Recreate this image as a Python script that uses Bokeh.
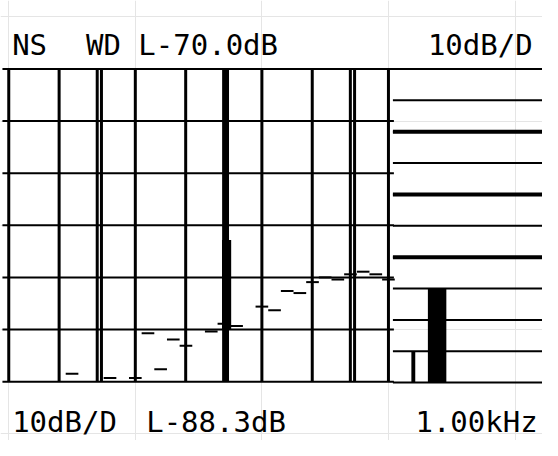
import numpy as np
from bokeh.plotting import figure
from bokeh.models import Range1d, LinearScale, Label
from bokeh.embed import file_html
from bokeh.resources import INLINE

# ---------------- data ----------------
# frequency grid (Hz, log axis 1 Hz .. 1 kHz) and level grid (dB, 10 dB/div)
grid_hz = [1, 2.5, 5, 10, 25, 50, 100, 250, 500, 1000]
grid_db = [-70, -80, -90, -100, -110, -120, -130]

# 1/3-octave (base-10) band spectrum (band index k -> 10**(k/10) Hz)
band_k = [5, 8, 10, 11, 12, 13, 14, 16, 17, 18, 20, 21, 22, 23, 24, 25, 26, 27, 28, 29, 30]
band_db = [-128.5, -129.3, -129.3, -120.7, -127.6, -121.9, -123.1, -120.4, -118.9, -119.3,
           -115.6, -116.3, -112.6, -113.0, -110.9, -110.0, -110.4, -109.4, -108.9, -109.4, -110.4]

# discrete spectral lines (full height) and the dense hum blocks near 50 Hz
line_hz = [5.4, 540]
hum_lo_hz = [48.8, 48.4]
hum_hi_hz = [55.0, 57.2]
hum_top_db = [-70.0, -102.8]
hum_bot_db = [-130.0, -120.0]

# right-hand meter: 10 divisions, two bars
meter_levels = [0, 1, 2, 3, 4, 5, 6, 7, 8, 9, 10]
meter_major = [4, 6, 8]
meter_pos = [1, 2]
meter_val = [1, 3]

top_texts = ["NS", "WD L-70.0dB", "10dB/D"]
bottom_texts = ["10dB/D", "L-88.3dB", "1.00kHz"]

# ---------------- layout constants (reference-picture pixels) ----------------
W, H = 542, 440           # canvas; the 558x456 reference is mapped onto it
RW, RH = 558, 456
PX_1HZ, DEC = 8.5, 130.3
PY_TOP, PX_DB = 71.0, 5.4
PX_M1, PX_MU = 425.0, 24.5
PY_M0, PY_MU = 396.0, 32.5


def hz(px):
    return 10 ** ((px - PX_1HZ) / DEC)


def db(py):
    return -70 - (py - PY_TOP) / PX_DB


def mx(px):
    return 1 + (px - PX_M1) / PX_MU


def my(py):
    return (PY_M0 - py) / PY_MU


p = figure(width=W, height=H, output_backend="svg", toolbar_location=None,
           x_axis_type="log", x_axis_location=None, y_axis_location=None,
           x_range=Range1d(hz(0), hz(RW)),
           y_range=Range1d(db(RH), db(0)),
           min_border=0)
p.outline_line_color = None
p.background_fill_color = "white"
p.border_fill_color = "white"
p.extra_x_ranges = {"m": Range1d(mx(0), mx(RW))}
p.extra_x_scales = {"m": LinearScale()}
p.extra_y_ranges = {"m": Range1d(my(RH), my(0))}
p.extra_y_scales = {"m": LinearScale()}

ink = "#000000"
db_arr = np.array(grid_db, dtype=float)
n_db, n_hz = len(grid_db), len(grid_hz)

# horizontal grid of the spectrum panel
p.segment(x0=[hz(2)] * n_db, x1=[hz(405)] * n_db,
          y0=grid_db, y1=grid_db, line_color=ink, line_width=2)
# vertical grid
p.segment(x0=grid_hz, x1=grid_hz, y0=[db_arr.max()] * n_hz,
          y1=[db_arr.min()] * n_hz, line_color=ink, line_width=3)

# band trace (short steps)
bc = 10 ** (np.array(band_k) / 10.0)
p.segment(x0=bc * 10 ** -0.05, x1=bc * 10 ** 0.05, y0=band_db, y1=band_db,
          line_color=ink, line_width=2)

# spectral lines
p.segment(x0=line_hz, x1=line_hz, y0=[db_arr.max()] * len(line_hz),
          y1=[db_arr.min()] * len(line_hz), line_color=ink, line_width=3)
p.quad(left=hum_lo_hz, right=hum_hi_hz, top=hum_top_db, bottom=hum_bot_db,
       fill_color=ink, line_color=None)

# meter panel
lev = np.array(meter_levels)
p.segment(x0=[mx(404)] * len(lev), x1=[mx(RW)] * len(lev), y0=lev, y1=lev,
          line_color=ink, line_width=2, x_range_name="m", y_range_name="m")
p.segment(x0=[mx(404)] * len(meter_major), x1=[mx(RW)] * len(meter_major),
          y0=meter_major, y1=meter_major, line_color=ink, line_width=4,
          x_range_name="m", y_range_name="m")
p.vbar(x=meter_pos[:1], top=meter_val[:1], bottom=0, width=4 / PX_MU,
       fill_color=ink, line_color=None, x_range_name="m", y_range_name="m")
p.vbar(x=meter_pos[1:], top=meter_val[1:], bottom=0, width=19 / PX_MU,
       fill_color=ink, line_color=None, x_range_name="m", y_range_name="m")

# texts
font = "DejaVu Sans Mono"
fs = "29px"
top_x = [12, 88, 440]
bot_x = [12, 150, 553]
for t, x in zip(top_texts, top_x):
    p.add_layout(Label(x=hz(x), y=db(46), text=t, text_font=font, text_font_size=fs,
                       text_color=ink, text_baseline="alphabetic", text_align="left"))
for i, (t, x) in enumerate(zip(bottom_texts, bot_x)):
    p.add_layout(Label(x=hz(x), y=db(437), text=t, text_font=font, text_font_size=fs,
                       text_color=ink, text_baseline="alphabetic",
                       text_align="right" if i == 2 else "left"))

open("out.html", "w").write(file_html(p, INLINE))
